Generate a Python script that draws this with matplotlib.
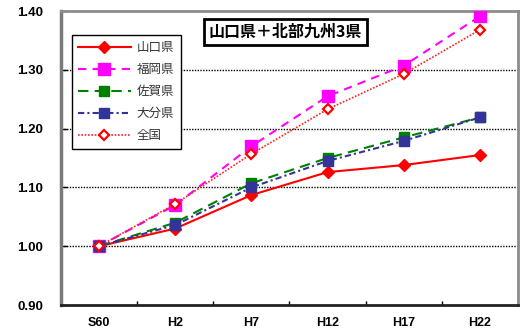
import matplotlib
matplotlib.use("Agg")
import matplotlib.pyplot as plt
from matplotlib.ticker import FixedLocator

plt.rcParams['font.family'] = ['Noto Sans CJK JP', 'DejaVu Sans']

# Census years (Showa 60 .. Heisei 22)
years = ["S60", "H2", "H7", "H12", "H17", "H22"]

# Household-count index relative to S60 (= 1.00)
yamaguchi = [1.000, 1.030, 1.087, 1.126, 1.138, 1.155]
fukuoka   = [1.000, 1.070, 1.170, 1.255, 1.307, 1.391]
saga      = [1.000, 1.040, 1.107, 1.150, 1.185, 1.219]
oita      = [1.000, 1.036, 1.100, 1.145, 1.179, 1.219]
zenkoku   = [1.000, 1.072, 1.157, 1.233, 1.293, 1.368]

series_names = ["山口県", "福岡県", "佐賀県", "大分県", "全国"]
y_ticks = [0.90, 1.00, 1.10, 1.20, 1.30, 1.40]
title_text = "山口県＋北部九州3県"

fig = plt.figure(figsize=(5.2, 3.35), dpi=100)
ax = fig.add_axes([61/520, 30/335, 457/520, 294/335])

x = list(range(len(years)))

# dotted horizontal grid
for g in [1.00, 1.10, 1.20, 1.30]:
    ax.axhline(g, color='black', lw=1.0, ls=(0, (1, 1)), zorder=1)

ax.plot(x, yamaguchi, color='#FF0000', lw=1.5, ls='-', marker='D', ms=6.5,
        mfc='#FF0000', mec='#FF0000', label=series_names[0], zorder=3)
ax.plot(x, fukuoka, color='#FF00FF', lw=1.5, ls=(0, (4, 3)), marker='s', ms=8,
        mfc='#FF00FF', mec='#FF00FF', label=series_names[1], zorder=3)
ax.plot(x, saga, color='#008000', lw=1.5, ls=(0, (5, 3)), marker='s', ms=7.5,
        mfc='#008000', mec='#008000', label=series_names[2], zorder=3)
ax.plot(x, oita, color='#333399', lw=1.5, ls=(0, (3, 1.5, 1, 1.5)), marker='s', ms=7.5,
        mfc='#333399', mec='#333399', label=series_names[3], zorder=3)
ax.plot(x, zenkoku, color='#FF2020', lw=1.2, ls=(0, (1, 1)), marker='D', ms=5.5,
        mfc='white', mec='#FF0000', mew=1.6, label=series_names[4], zorder=4)

ax.set_xlim(-0.5, len(years) - 0.5)
ax.set_ylim(0.90, 1.40)

ax.set_xticks(x)
ax.set_xticklabels(years, fontfamily='Liberation Sans', fontweight='bold', fontsize=9)
ax.xaxis.set_minor_locator(FixedLocator([i + 0.5 for i in range(len(years) - 1)]))
ax.tick_params(axis='x', which='major', length=0, pad=9)
ax.tick_params(axis='x', which='minor', direction='in', length=3, width=1, color='black')

ax.set_yticks(y_ticks)
ax.set_yticklabels([f"{v:.2f}" for v in y_ticks], fontfamily='Liberation Sans',
                   fontweight='bold', fontsize=9.5)
ax.tick_params(axis='y', direction='in', length=4, width=1, color='black', pad=13)

for side in ['top', 'right']:
    ax.spines[side].set_color('#8C8C8C')
    ax.spines[side].set_linewidth(2.0)
ax.spines['left'].set_color('#7A7A7A')
ax.spines['left'].set_linewidth(2.5)
ax.spines['bottom'].set_color('#222222')
ax.spines['bottom'].set_linewidth(2.0)

leg = ax.legend(loc='upper left', bbox_to_anchor=(0.024, 0.918), fontsize=9,
                frameon=True, fancybox=False, framealpha=1, edgecolor='black',
                handlelength=4.2, handletextpad=0.5, labelspacing=0.72,
                borderpad=0.5, borderaxespad=0)
leg.get_frame().set_linewidth(1.0)
for t in leg.get_texts():
    t.set_color('#333333')

ax.text(0.491, 0.929, title_text, transform=ax.transAxes, ha='center', va='center',
        fontsize=11.5, fontweight='bold', zorder=5,
        bbox=dict(boxstyle='square,pad=0.32', fc='white', ec='black', lw=2))

fig.savefig("out.png", dpi=100)
